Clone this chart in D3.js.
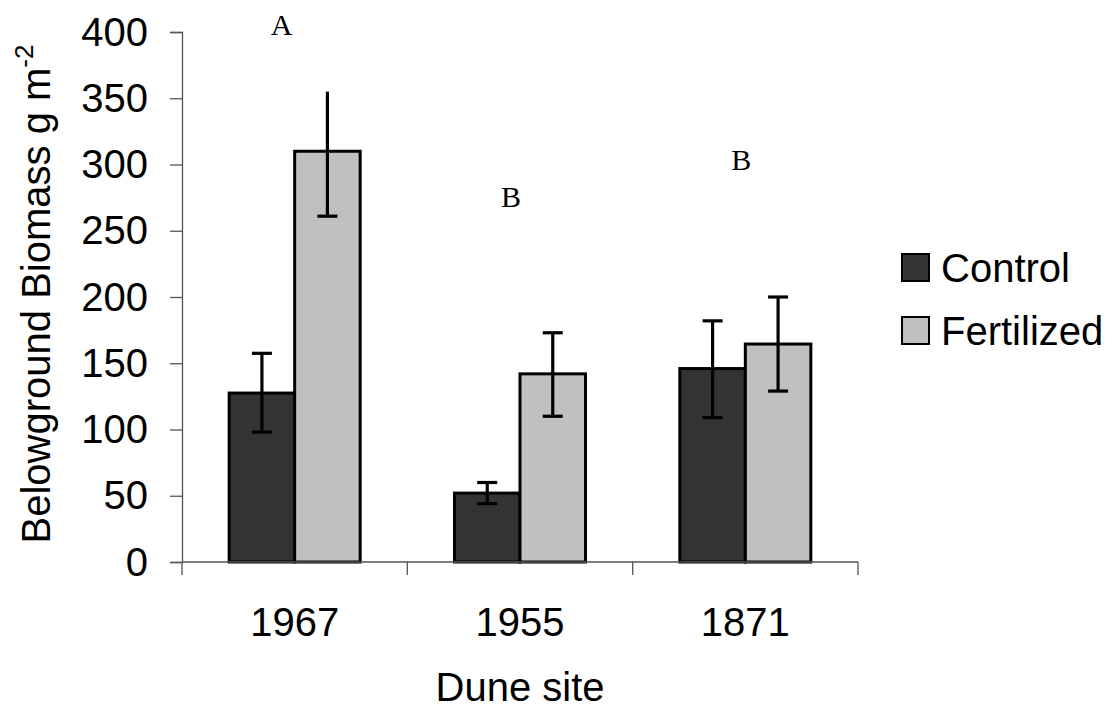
<!DOCTYPE html>
<html>
<head>
<meta charset="utf-8">
<script src="https://cdn.jsdelivr.net/npm/d3@7"></script>
<style>
  body { margin: 0; background: #fff; }
  svg { display: block; font-family: "Liberation Sans", Arial, sans-serif; }
</style>
</head>
<body>
<svg id="chart" width="1113" height="713"></svg>
<script>
// data
const sites = ["1967", "1955", "1871"];
const treatments = ["Control", "Fertilized"];
const control = [127.5, 52, 146];
const controlLo = [98, 44, 109];
const controlHi = [157.5, 60, 182];
const fertilized = [310, 142, 164.5];
const fertilizedLo = [261, 110, 129];
const fertilizedHi = [355, 173, 200];
const letters = ["A", "B", "B"];
const letterY = [398, 268, 296];
const yTicks = [0, 50, 100, 150, 200, 250, 300, 350, 400];

const colors = { Control: "#333333", Fertilized: "#c0c0c0" };

const svg = d3.select("#chart");
const margin = { top: 32, left: 182, right: 255, bottom: 151 };
const width = 1113, height = 713;

const x = d3.scaleBand()
  .domain(sites)
  .range([margin.left, width - margin.right]);

const x1 = d3.scaleBand()
  .domain(treatments)
  .range([0, x.bandwidth()])
  .paddingInner(0)
  .paddingOuter(0.72);

const y = d3.scaleLinear()
  .domain([0, 400])
  .range([height - margin.bottom, margin.top]);

// rows for bars
const rows = [];
sites.forEach((s, i) => {
  rows.push({ site: s, t: "Control", v: control[i], lo: controlLo[i], hi: controlHi[i] });
  rows.push({ site: s, t: "Fertilized", v: fertilized[i], lo: fertilizedLo[i], hi: fertilizedHi[i] });
});

// bars
svg.append("g")
  .selectAll("rect")
  .data(rows)
  .join("rect")
  .attr("x", d => x(d.site) + x1(d.t))
  .attr("y", d => y(d.v))
  .attr("width", x1.bandwidth())
  .attr("height", d => y(0) - y(d.v))
  .attr("fill", d => colors[d.t])
  .attr("stroke", "#000")
  .attr("stroke-width", 3);

// error bars
const capW = 10;
const eb = svg.append("g").attr("stroke", "#000").attr("stroke-width", 3.2);
rows.forEach(d => {
  const cx = x(d.site) + x1(d.t) + x1.bandwidth() / 2;
  eb.append("line").attr("x1", cx).attr("x2", cx).attr("y1", y(d.lo)).attr("y2", y(d.hi));
  eb.append("line").attr("x1", cx - capW).attr("x2", cx + capW).attr("y1", y(d.lo)).attr("y2", y(d.lo));
  // top cap of the 1967 fertilized bar is missing in the original
  if (!(d.site === "1967" && d.t === "Fertilized")) {
    eb.append("line").attr("x1", cx - capW).attr("x2", cx + capW).attr("y1", y(d.hi)).attr("y2", y(d.hi));
  }
});

// y axis
const yAxis = svg.append("g")
  .attr("transform", `translate(${margin.left},0)`)
  .call(d3.axisLeft(y).tickValues(yTicks).tickSize(12).tickPadding(22));
yAxis.select(".domain").attr("stroke", "#555").attr("stroke-width", 1.3);
yAxis.selectAll(".tick line").attr("stroke", "#555").attr("stroke-width", 1.3);
yAxis.selectAll(".tick text")
  .attr("font-size", 40)
  .attr("font-family", "Liberation Sans, Arial, sans-serif")
  .attr("dy", "0.33em")
  .attr("fill", "#000");

// x axis: ticks between groups
const xEdges = sites.map(s => x(s)).concat([x(sites[sites.length - 1]) + x.bandwidth()]);
const xg = svg.append("g");
xg.append("line")
  .attr("x1", margin.left).attr("x2", width - margin.right)
  .attr("y1", y(0)).attr("y2", y(0))
  .attr("stroke", "#555").attr("stroke-width", 1.3);
xg.selectAll("line.tk")
  .data(xEdges)
  .join("line")
  .attr("class", "tk")
  .attr("x1", d => d).attr("x2", d => d)
  .attr("y1", y(0)).attr("y2", y(0) + 13)
  .attr("stroke", "#555").attr("stroke-width", 1.3);
xg.selectAll("text")
  .data(sites)
  .join("text")
  .attr("x", d => x(d) + x.bandwidth() / 2)
  .attr("y", 636)
  .attr("text-anchor", "middle")
  .attr("font-size", 40)
  .text(d => d);

// axis titles
svg.append("text")
  .attr("x", x(sites[1]) + x.bandwidth() / 2)
  .attr("y", 701)
  .attr("text-anchor", "middle")
  .attr("font-size", 40)
  .text("Dune site");

const yl = svg.append("text")
  .attr("transform", "translate(50,294) rotate(-90)")
  .attr("text-anchor", "middle")
  .attr("font-size", 40);
yl.append("tspan").text("Belowground Biomass g m");
yl.append("tspan").attr("dy", -17).attr("font-size", 26).text("-2");

// significance letters
const letterDx = [-13, -9, -4];
svg.append("g")
  .selectAll("text")
  .data(letters)
  .join("text")
  .attr("x", (d, i) => x(sites[i]) + x.bandwidth() / 2 + letterDx[i])
  .attr("y", (d, i) => y(letterY[i]))
  .attr("text-anchor", "middle")
  .attr("font-family", "Liberation Serif, Times New Roman, serif")
  .attr("font-size", 30)
  .text(d => d);

// legend
const lg = svg.append("g").attr("transform", "translate(902,254)");
treatments.forEach((t, i) => {
  const row = lg.append("g").attr("transform", `translate(0,${i * 63})`);
  row.append("rect")
    .attr("width", 27).attr("height", 27)
    .attr("fill", colors[t])
    .attr("stroke", "#000").attr("stroke-width", 2);
  row.append("text")
    .attr("x", 39).attr("y", 28)
    .attr("font-size", 40)
    .text(t);
});
</script>
</body>
</html>
